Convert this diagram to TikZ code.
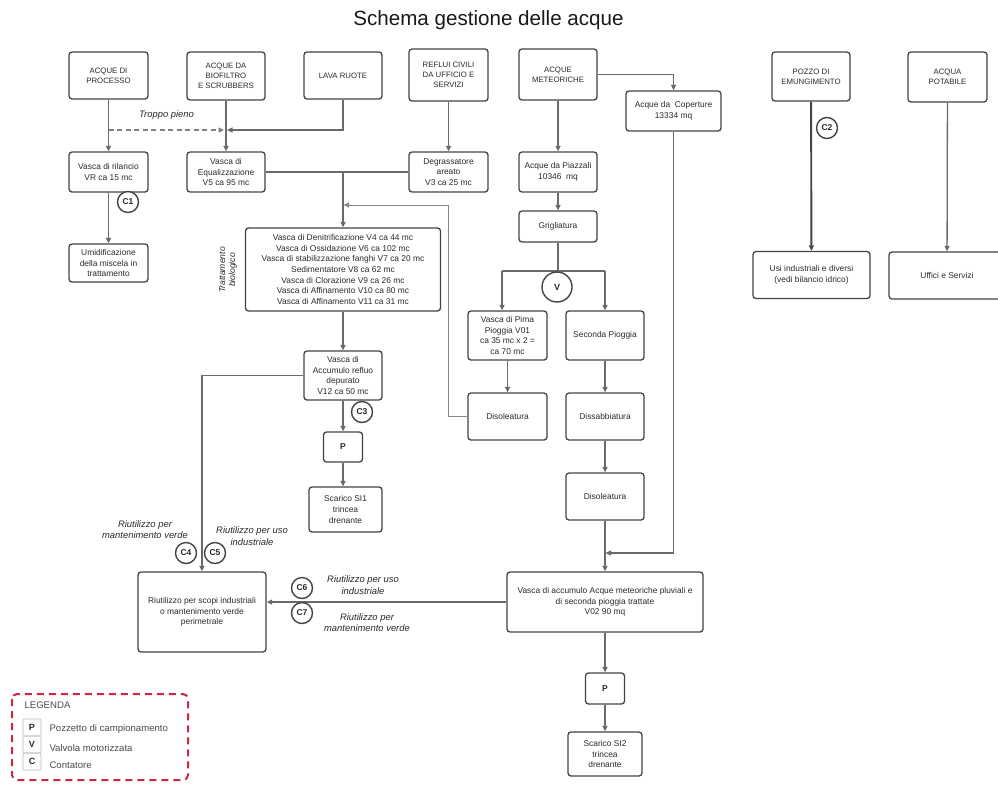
\documentclass[tikz,border=0pt]{standalone}
\usepackage{fontspec}
\setmainfont{Liberation Sans}
\usetikzlibrary{arrows.meta}
\definecolor{edgegray}{HTML}{6A6A6A}
\definecolor{framegray}{HTML}{444444}
\definecolor{inkgray}{HTML}{2A2A2A}
\definecolor{legendred}{RGB}{206,38,68}
\newcommand{\bxfont}{\fontsize{8.4}{10.6}\selectfont}
\newcommand{\capfont}{\fontsize{7.8}{10.2}\selectfont}
\newcommand{\notefont}{\fontsize{9.4}{11.4}\selectfont\itshape}
\tikzset{
  box/.style={draw=framegray, line width=1.3pt, rounded corners=3pt, fill=white,
    text=inkgray, align=center, font=\bxfont, inner sep=1pt},
  capbox/.style={box, font=\capfont},
  meter/.style={circle, draw=framegray, line width=1.4pt, fill=white, text=inkgray,
    minimum size=21pt, inner sep=0pt, font=\fontsize{8.5}{9}\selectfont\bfseries},
  valve/.style={meter, minimum size=30pt, font=\fontsize{9}{10}\selectfont\bfseries},
  pipe/.style={draw=edgegray, line width=1.3pt},
  flow/.style={pipe, -{Triangle[length=5.5pt,width=5pt]}},
  note/.style={text=inkgray, align=center, font=\notefont},
  keybox/.style={draw=gray!55, line width=0.6pt, rounded corners=1pt, minimum width=18pt,
    minimum height=17pt, inner sep=0pt, font=\fontsize{9}{10}\selectfont\bfseries, text=inkgray},
  keytext/.style={anchor=west, text=inkgray!85, font=\fontsize{9.6}{11}\selectfont}
}
\begin{document}
\begin{tikzpicture}[x=1pt, y=-1pt]
\useasboundingbox (0,0) rectangle (998,785);
\clip (0,0) rectangle (998,785);
\fill[white] (0,0) rectangle (998,785);

% title
\node[text=black!90, font=\fontsize{20.6}{24}\selectfont] (title) at (488.5,20) {Schema gestione delle acque};

% sources
\node[capbox, minimum width=79, minimum height=47] (proc) at (108.5,75.5) {ACQUE DI\\PROCESSO};
\node[capbox, minimum width=78, minimum height=48] (biof) at (226,76) {ACQUE DA\\BIOFILTRO\\E SCRUBBERS};
\node[capbox, minimum width=78, minimum height=47] (lava) at (343,75.5) {LAVA RUOTE};
\node[capbox, minimum width=79, minimum height=52] (reflui) at (448.5,75) {REFLUI CIVILI\\DA UFFICIO E\\SERVIZI};
\node[capbox, minimum width=78, minimum height=51] (meteo) at (558,74.5) {ACQUE\\METEORICHE};
\node[box, minimum width=95, minimum height=40] (coper) at (673.5,111) {Acque da\ \ Coperture\\13334 mq};
\node[capbox, minimum width=78, minimum height=49] (pozzo) at (811,76.5) {POZZO DI\\EMUNGIMENTO};
\node[capbox, minimum width=79, minimum height=50] (potab) at (947.5,77) {ACQUA\\POTABILE};

% first stage
\node[box, minimum width=79, minimum height=40] (rilancio) at (108.5,172) {Vasca di rilancio\\VR ca 15 mc};
\node[box, minimum width=78, minimum height=40] (equal) at (226,172) {Vasca di\\Equalizzazione\\V5 ca 95 mc};
\node[box, minimum width=79, minimum height=40] (degras) at (448.5,172) {Degrassatore\\areato\\V3 ca 25 mc};
\node[box, minimum width=78, minimum height=40] (piazz) at (558,172) {Acque da Piazzali\\10346\ \ mq};
\node[box, minimum width=78, minimum height=31] (grigl) at (558,226.5) {Grigliatura};
\node[box, minimum width=79, minimum height=38] (umid) at (108.5,263) {Umidificazione\\della miscela in\\trattamento};

% biological treatment
\node[box, minimum width=195, minimum height=83] (bio) at (343,269.5) {Vasca di Denitrificazione V4 ca 44 mc\\Vasca di Ossidazione V6 ca 102 mc\\Vasca di stabilizzazione fanghi V7 ca 20 mc\\Sedimentatore V8 ca 62 mc\\Vasca di Clorazione V9 ca 26 mc\\Vasca di Affinamento V10 ca 80 mc\\Vasca di Affinamento V11 ca 31 mc};
\node[note, rotate=90, font=\fontsize{8.6}{10}\selectfont\itshape] (biolab) at (228,270) {Trattamento\\biologico};

\node[box, minimum width=78, minimum height=49] (accum) at (343,375.5) {Vasca di\\Accumulo refluo\\depurato\\V12 ca 50 mc};
\node[box, minimum width=39, minimum height=30, font=\fontsize{8.5}{10}\selectfont\bfseries] (p1) at (343,447) {P};
\node[box, minimum width=73, minimum height=45] (sc1) at (345.5,509.5) {Scarico SI1\\trincea\\drenante};

% users
\node[box, minimum width=117, minimum height=47] (usi) at (811.5,275) {Usi industriali e diversi\\(vedi bilancio idrico)};
\node[box, minimum width=116, minimum height=47] (uffici) at (947,275.5) {Uffici e Servizi};

% rain water line
\node[box, minimum width=79, minimum height=49] (prima) at (507.5,335.5) {Vasca di Pima\\Pioggia V01\\ca 35 mc x 2 =\\ca 70 mc};
\node[box, minimum width=78, minimum height=49] (seconda) at (605,335.5) {Seconda Pioggia};
\node[box, minimum width=79, minimum height=47] (diso1) at (507.5,416.5) {Disoleatura};
\node[box, minimum width=78, minimum height=47] (dissab) at (605,416.5) {Dissabbiatura};
\node[box, minimum width=78, minimum height=47] (diso2) at (605,496.5) {Disoleatura};
\node[box, minimum width=196, minimum height=60] (vmet) at (605,602) {Vasca di accumulo Acque meteoriche pluviali e\\di seconda pioggia trattate\\V02 90 mq};
\node[box, minimum width=39, minimum height=31, font=\fontsize{8.5}{10}\selectfont\bfseries] (p2) at (605,688.5) {P};
\node[box, minimum width=74, minimum height=44] (sc2) at (605,754) {Scarico SI2\\trincea\\drenante};

% reuse
\node[box, minimum width=128, minimum height=80] (riut) at (202,612) {Riutilizzo per scopi industriali\\o mantenimento verde\\perimetrale};

% junction points
\coordinate (tpStart) at (108.5,130);
\coordinate (tpEnd) at (224,130);
\coordinate (lavaEnd) at (227,130);
\coordinate (mix) at (343,172);
\coordinate (retTop) at (448,205);
\coordinate (retEnd) at (343.5,205);
\coordinate (brL) at (502,271);
\coordinate (brR) at (605,271);
\coordinate (copTurn) at (673.5,553);
\coordinate (copEnd) at (605.5,553);

% connectors
\draw[flow] (proc) -- (rilancio);
\draw[flow, dash pattern=on 5pt off 3.5pt, draw=edgegray!85] (tpStart) -- (tpEnd);
\draw[flow] (biof) -- (equal);
\draw[flow] (lava.south) |- (lavaEnd);
\draw[flow] (reflui) -- (degras);
\draw[pipe] (equal.east) -- (degras.west);
\draw[flow] (mix) -- (bio.north);
\draw[flow, draw=edgegray!80, line width=1pt] (diso1.west) -| (retTop) -- (retEnd);
\draw[flow] (rilancio) -- (umid);
\draw[flow] (bio) -- (accum);
\draw[flow] (accum) -- (p1);
\draw[flow] (p1.south) -- (p1.south |- sc1.north);
\draw[flow] (accum.west) -| (riut.north);
\draw[flow] (vmet.west) -- (vmet.west -| riut.east);
\draw[flow] (meteo) -- (piazz);
\draw[flow] (meteo.east) -| (coper.north);
\draw[flow] (piazz) -- (grigl);
\draw[pipe] (grigl.south) -- (grigl.south |- brL);
\draw[pipe] (brL) -- (brR);
\draw[flow] (brL) -- (brL |- prima.north);
\draw[flow] (brR) -- (seconda.north);
\draw[flow] (prima) -- (diso1);
\draw[flow] (seconda) -- (dissab);
\draw[flow] (dissab) -- (diso2);
\draw[flow] (diso2) -- (vmet);
\draw[flow] (coper.south) -- (copTurn) -- (copEnd);
\draw[flow] (vmet) -- (p2);
\draw[flow] (p2) -- (sc2);
\draw[flow, draw=framegray, line width=1.9pt] (pozzo) -- (usi);
\draw[flow] (potab) -- (uffici);

% valve and meters
\node[valve] (vv) at (557,287) {V};
\node[meter] (c1) at (128,202) {C1};
\node[meter] (c2) at (827,128) {C2};
\node[meter] (c3) at (362,412) {C3};
\node[meter] (c4) at (186,553) {C4};
\node[meter] (c5) at (215,553) {C5};
\node[meter] (c6) at (302,588) {C6};
\node[meter] (c7) at (302,613) {C7};

% flow notes
\node[note] (ntp) at (166.5,115) {Troppo pieno};
\node[note] (nc4) at (145,529.5) {Riutilizzo per\\mantenimento verde};
\node[note] (nc5) at (252,536) {Riutilizzo per uso\\industriale};
\node[note] (nc6) at (363,585) {Riutilizzo per uso\\industriale};
\node[note] (nc7) at (367,622.5) {Riutilizzo per\\mantenimento verde};

% legend
\draw[legendred, line width=2pt, dash pattern=on 7pt off 5pt, rounded corners=5pt] (12,694) rectangle (188,780);
\node[anchor=west, text=inkgray!85, font=\fontsize{9.6}{11}\selectfont] (legtitle) at (21,705) {LEGENDA};
\node[keybox] (kp) at (32,727.5) {P};
\node[keybox] (kv) at (32,744.5) {V};
\node[keybox] (kc) at (32,761.5) {C};
\node[keytext] (tp) at (46,729) {Pozzetto di campionamento};
\node[keytext] (tv) at (46,748) {Valvola motorizzata};
\node[keytext] (tc) at (46,765.5) {Contatore};
\end{tikzpicture}
\end{document}
